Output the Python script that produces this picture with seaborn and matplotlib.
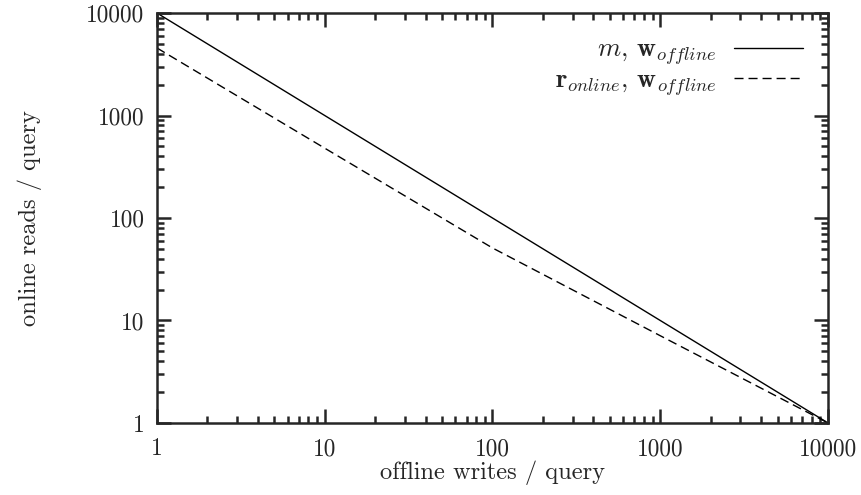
import numpy as np
import pandas as pd
import matplotlib
matplotlib.use("Agg")
import matplotlib.pyplot as plt
import matplotlib.ticker as mticker
import seaborn as sns

# values (log-log)
writes = [1, 10, 100, 1000, 10000]
reads_m = [10000, 1000, 100, 10, 1]
reads_r = [4560, 480, 51, 7.1, 1]
tick_vals = [1, 10, 100, 1000, 10000]
tick_labels = ["1", "10", "100", "1000", "10000"]

sns.set_style("ticks")
plt.rcParams["font.family"] = ["cmr10", "DejaVu Serif"]
plt.rcParams["mathtext.fontset"] = "cm"
plt.rcParams["axes.unicode_minus"] = False

fig = plt.figure(figsize=(8.61, 4.95), dpi=100)
ax = fig.add_axes([0.1823, 0.1455, 0.7794, 0.8282])

df = pd.DataFrame({"writes": writes, "m": reads_m, "r": reads_r})
sns.lineplot(data=df, x="writes", y="m", ax=ax, color="black", lw=1.0,
             label=r"$m$, $\mathbf{w}_{offline}$")
sns.lineplot(data=df, x="writes", y="r", ax=ax, color="black", lw=1.0,
             dashes=False, linestyle=(0, (6.5, 3.6)),
             label=r"$\mathbf{r}_{online}$, $\mathbf{w}_{offline}$")

ax.set_xscale("log")
ax.set_yscale("log")
ax.set_xlim(1, 10000)
ax.set_ylim(1, 10000)
ax.xaxis.set_major_locator(mticker.FixedLocator(tick_vals))
ax.yaxis.set_major_locator(mticker.FixedLocator(tick_vals))
ax.xaxis.set_major_formatter(mticker.FixedFormatter(tick_labels))
ax.yaxis.set_major_formatter(mticker.FixedFormatter(tick_labels))
ax.xaxis.set_minor_locator(mticker.LogLocator(base=10, subs=np.arange(2, 10)))
ax.yaxis.set_minor_locator(mticker.LogLocator(base=10, subs=np.arange(2, 10)))
ax.xaxis.set_minor_formatter(mticker.NullFormatter())
ax.yaxis.set_minor_formatter(mticker.NullFormatter())

ax.tick_params(which="both", direction="in", top=True, right=True, width=1.8, labelsize=16.8)
ax.tick_params(which="major", length=10)
ax.tick_params(which="minor", length=5)
ax.tick_params(axis="x", pad=11)
ax.tick_params(axis="y", pad=9)
for s in ax.spines.values():
    s.set_linewidth(1.8)
    s.set_visible(True)

ax.set_xlabel("offline writes / query", fontsize=17.6, labelpad=0)
ax.set_ylabel("online reads / query", fontsize=17.6, labelpad=32)

ax.legend(loc="upper right", frameon=False, markerfirst=False, fontsize=19,
          handlelength=2.6, handletextpad=0.68, labelspacing=0.05,
          borderaxespad=0.55)

fig.savefig("out.png", dpi=100)
